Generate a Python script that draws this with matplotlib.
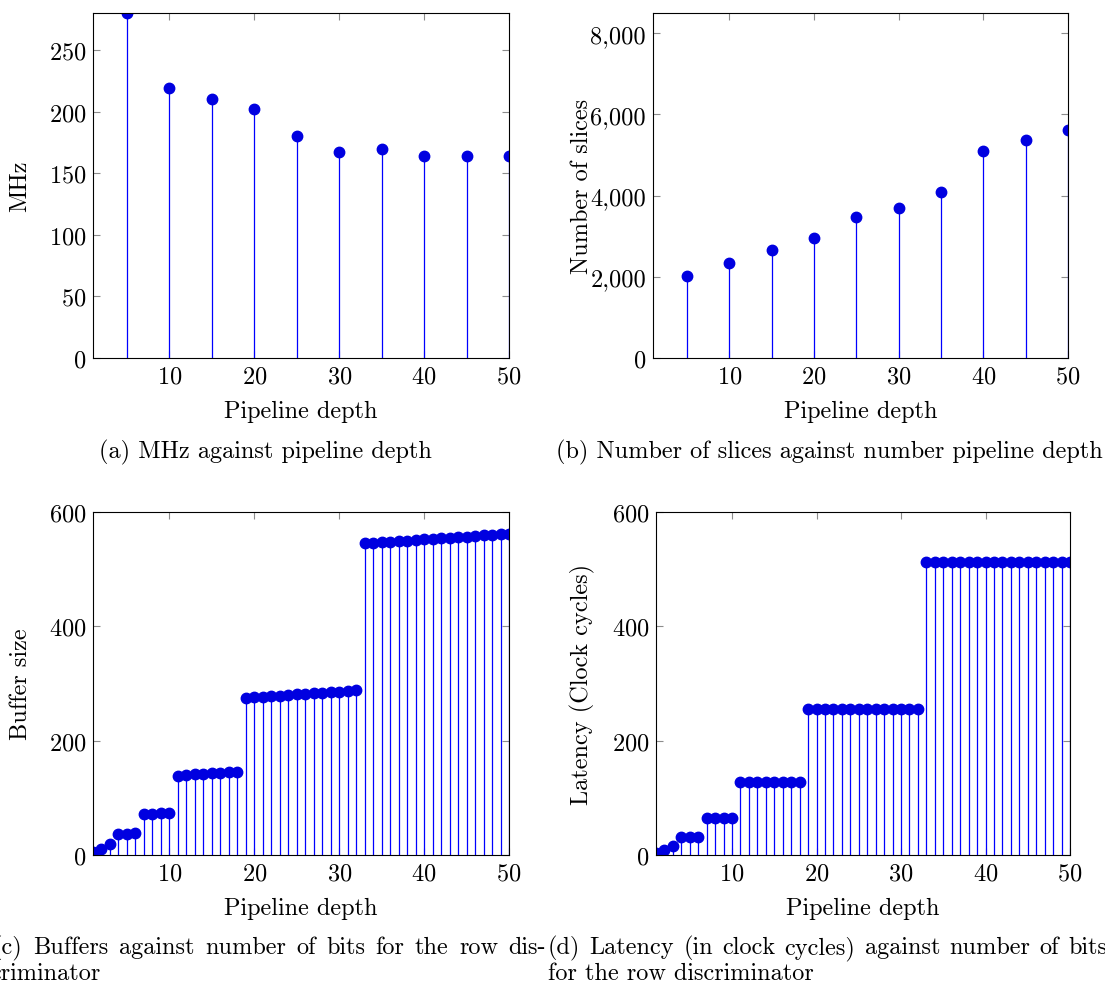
import matplotlib
matplotlib.use("Agg")
import matplotlib.pyplot as plt
from matplotlib.ticker import FuncFormatter

# (a), (b): sampled every 5 stages
depth_ab = [5, 10, 15, 20, 25, 30, 35, 40, 45, 50]
mhz = [280, 219, 210, 202, 180, 167, 170, 164, 164, 164]
slices = [2020, 2330, 2650, 2950, 3470, 3700, 4090, 5110, 5360, 5620]

# (c), (d): every depth from 1 to 50
depth_cd = list(range(1, 51))
buffer_size = [5, 10, 19, 36, 37, 38, 71, 72, 73, 74,
               139, 140, 141, 142, 143, 144, 145, 146,
               275, 276, 277, 278, 279, 280, 281, 282, 283, 284, 285, 286, 287, 288,
               545, 546, 547, 548, 549, 550, 551, 552, 553, 554, 555, 556, 557, 558,
               559, 560, 561, 562]
latency = [4, 8, 16, 32, 32, 32, 64, 64, 64, 64,
           128, 128, 128, 128, 128, 128, 128, 128,
           256, 256, 256, 256, 256, 256, 256, 256, 256, 256, 256, 256, 256, 256,
           512, 512, 512, 512, 512, 512, 512, 512, 512, 512, 512, 512, 512, 512,
           512, 512, 512, 512]

xticks = [10, 20, 30, 40, 50]

plt.rcParams['font.family'] = 'serif'
plt.rcParams['font.serif'] = ['cmr10']
plt.rcParams['axes.formatter.use_mathtext'] = True
plt.rcParams['font.size'] = 17.5

W, H = 1105, 987
fig = plt.figure(figsize=(W / 100, H / 100), dpi=100)


def px_axes(left, top, right, bottom):
    return fig.add_axes([left / W, 1 - bottom / H, (right - left) / W, (bottom - top) / H])


def stem_panel(ax, x, y, ylim, yticks, ylabel, ylabel_x, comma=False):
    markers, stems, base = ax.stem(x, y, basefmt=' ')
    stems.set_color('blue')
    stems.set_linewidth(0.9)
    markers.set_color('#0000e0')
    markers.set_markersize(7.5)
    ax.set_xlim(1, 50)
    ax.set_ylim(*ylim)
    ax.set_xticks(xticks)
    ax.set_yticks(yticks)
    if comma:
        ax.yaxis.set_major_formatter(FuncFormatter(lambda v, p: f'{v:,.0f}'))
    ax.tick_params(direction='in', top=True, right=True, length=5,
                   color='0.55', width=0.8, pad=5)
    for s in ax.spines.values():
        s.set_linewidth(0.8)
    ax.set_xlabel('Pipeline depth', labelpad=9)
    ax.set_ylabel(ylabel)
    # place the y label centre at a fixed pixel column
    x0 = ax.get_position().x0
    ax.yaxis.set_label_coords((ylabel_x / W - x0) / ax.get_position().width, 0.5)
    ax.yaxis.label.set_va('center')


ax_a = px_axes(93, 14, 509, 359)
stem_panel(ax_a, depth_ab, mhz, (0, 280), [0, 50, 100, 150, 200, 250], 'MHz', 20)

ax_b = px_axes(653, 14, 1068, 359)
stem_panel(ax_b, depth_ab, slices, (0, 8500), [0, 2000, 4000, 6000, 8000],
           'Number of slices', 582, comma=True)

ax_c = px_axes(93, 513, 509, 856)
stem_panel(ax_c, depth_cd, buffer_size, (0, 600), [0, 200, 400, 600], 'Buffer size', 21)

ax_d = px_axes(656, 513, 1070, 856)
stem_panel(ax_d, depth_cd, latency, (0, 600), [0, 200, 400, 600],
           'Latency (Clock cycles)', 582)


def caption(text, x, y, ha='left'):
    fig.text(x / W, 1 - y / H, text, ha=ha, va='baseline')


def justified(words, x0, x1, y):
    # spread words over [x0, x1] like a justified LaTeX line
    texts = [fig.text(0, 1 - y / H, w, va='baseline') for w in words]
    fig.canvas.draw()
    r = fig.canvas.get_renderer()
    widths = [t.get_window_extent(r).width for t in texts]
    gap = (x1 - x0 - sum(widths)) / (len(words) - 1)
    x = x0
    for t, wd in zip(texts, widths):
        t.set_x(x / W)
        x += wd + gap


caption('(a) MHz against pipeline depth', 265, 458, ha='center')
caption('(b) Number of slices against number pipeline depth', 1103, 458, ha='right')
justified('(c) Buffers against number of bits for the row dis-'.split(), -7, 546, 954)
caption('criminator', -10, 980)
justified('(d) Latency (in clock cycles) against number of bits'.split(), 548, 1107, 954)
caption('for the row discriminator', 548, 980)

fig.savefig('out.png', dpi=100)
